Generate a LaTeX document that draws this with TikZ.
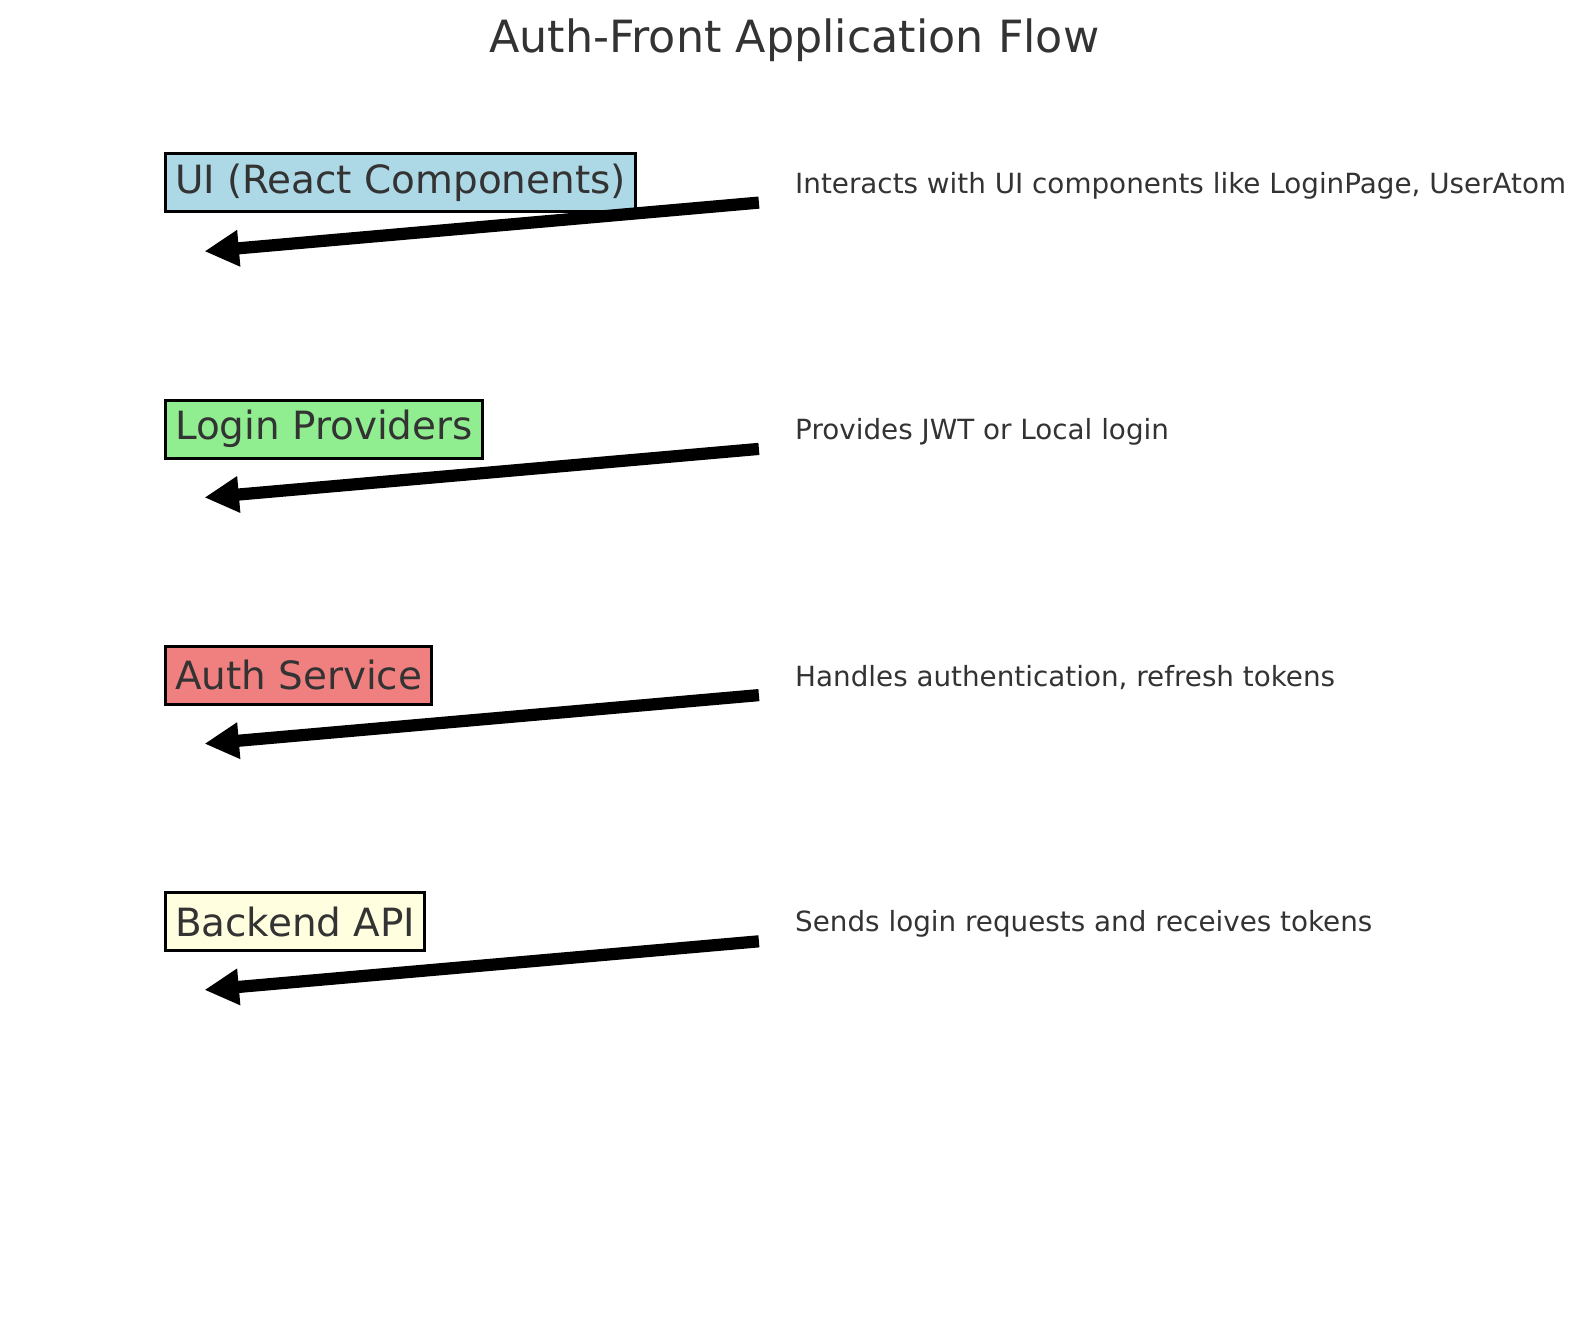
\documentclass[tikz,border=0pt]{standalone}
\usepackage{fontspec}
\setmainfont{DejaVu Sans}
\usetikzlibrary{arrows.meta}
\definecolor{txt}{HTML}{333333}
\definecolor{cUI}{HTML}{ADD8E6}
\definecolor{cLP}{HTML}{90EE90}
\definecolor{cAS}{HTML}{F08080}
\definecolor{cBA}{HTML}{FFFFE0}
\tikzset{
  layerbox/.style={draw=black, line width=3pt, text=txt, anchor=west,
    inner xsep=9.5pt, inner ysep=0pt, minimum height=58pt,
    font=\fontsize{38.9}{44}\selectfont},
  desc/.style={text=txt, anchor=west, inner sep=0pt,
    font=\fontsize{27.8}{32}\selectfont},
  flow/.style={line width=12.2pt, line cap=butt,
    -{Triangle[length=34.4pt,width=34.4pt]}}
}
\begin{document}
\begin{tikzpicture}[x=1pt,y=-1pt]
\useasboundingbox (0,0) rectangle (1589,1322);
\node[text=txt, font=\fontsize{44.4}{50}\selectfont] (title) at (794.3,40.5) {Auth-Front Application Flow};

\node[layerbox, fill=cUI] (ui) at (164,182.4) {UI (React Components)};
\node[layerbox, fill=cLP] (lp) at (164,429.1) {Login Providers};
\node[layerbox, fill=cAS] (as) at (164,675.3) {Auth Service};
\node[layerbox, fill=cBA] (ba) at (164,921.5) {Backend API};

\node[desc] (d1) at (795,185.4) {Interacts with UI components like LoginPage, UserAtom};
\node[desc] (d2) at (795,431.6) {Provides JWT or Local login};
\node[desc] (d3) at (795,677.8) {Handles authentication, refresh tokens};
\node[desc] (d4) at (795,924) {Sends login requests and receives tokens};

\coordinate (s1) at (758.9,202.6); \coordinate (e1) at (204.5,251.3);
\coordinate (s2) at (758.9,448.9); \coordinate (e2) at (204.5,497.5);
\coordinate (s3) at (758.9,695.1); \coordinate (e3) at (204.5,743.7);
\coordinate (s4) at (758.9,941.3); \coordinate (e4) at (204.5,989.9);
\draw[flow] (s1) -- (e1);
\draw[flow] (s2) -- (e2);
\draw[flow] (s3) -- (e3);
\draw[flow] (s4) -- (e4);
\end{tikzpicture}
\end{document}
